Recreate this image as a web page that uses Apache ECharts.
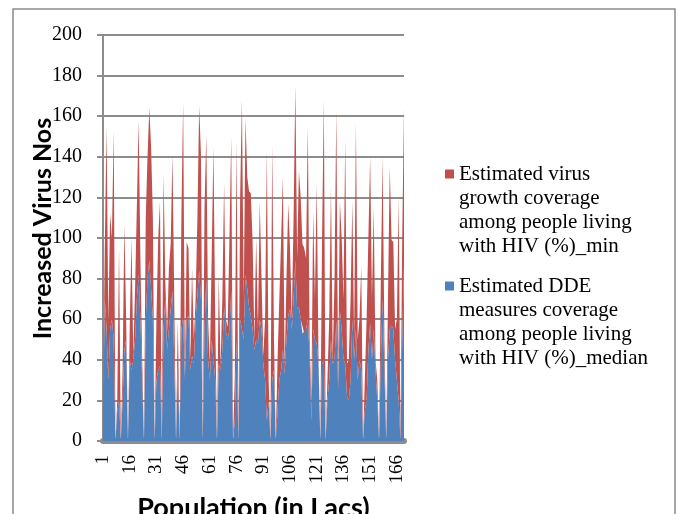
<!DOCTYPE html>
<html lang="en">
<head>
    <meta charset="UTF-8">
    <title>Increased Virus Nos</title>
    <script src="https://cdn.jsdelivr.net/npm/echarts@6/dist/echarts.min.js"></script>
    <style>
        html, body { margin: 0; padding: 0; background: #fff; }
    </style>
</head>
<body>
<div id="main" style="width: 678px;height:514px;"></div>
<script type="text/javascript">
    // population steps 1..170 on the x axis
    var populations = [];
    for (var p = 1; p <= 170; p++) populations.push(String(p));

    var nameMin = 'Estimated virus growth coverage among people living with HIV (%)_min';
    var nameMedian = 'Estimated DDE measures coverage among people living with HIV (%)_median';

    // blue area (bottom of the stack)
    var medianValues = [
        10, 70, 55, 30, 55, 60, 50, 0, 15, 20,
        0, 20, 45, 50, 0, 40, 35, 40, 50, 70,
        82, 60, 30, 0, 60, 80, 89, 75, 60, 0,
        30, 35, 37, 0, 55, 70, 45, 55, 65, 74,
        40, 0, 37, 0, 55, 61, 31, 60, 62, 35,
        42, 38, 60, 72, 84, 70, 0, 55, 80, 40,
        30, 50, 40, 30, 0, 38, 35, 45, 66, 54,
        50, 55, 74, 0, 10, 50, 0, 60, 55, 50,
        82, 75, 66, 62, 55, 45, 50, 48, 60, 55,
        38, 30, 10, 20, 0, 30, 35, 0, 15, 30,
        35, 45, 33, 50, 62, 65, 55, 70, 89, 65,
        66, 60, 53, 53, 55, 60, 42, 10, 55, 50,
        48, 38, 0, 38, 40, 0, 20, 30, 50, 38,
        40, 59, 26, 64, 55, 40, 38, 22, 20, 30,
        60, 40, 55, 30, 40, 35, 0, 15, 20, 45,
        58, 40, 55, 35, 20, 0, 40, 70, 35, 0,
        40, 55, 57, 55, 40, 30, 20, 0, 50, 87
    ];

    // red area (stacked on top of the blue one)
    var minValues = [
        10, 25, 100, 28, 57, 40, 103, 0, 5, 75,
        0, 15, 62, 10, 0, 15, 65, 2, 25, 45,
        76, 30, 10, 0, 50, 60, 75, 70, 50, 0,
        30, 65, 81, 0, 77, 8, 9, 30, 32, 67,
        30, 0, 23, 0, 55, 106, 2, 38, 33, 5,
        43, 12, 10, 38, 81, 71, 0, 60, 71, 20,
        8, 40, 105, 30, 0, 44, 2, 25, 61, 6,
        6, 45, 76, 0, 22, 98, 0, 60, 113, 20,
        77, 55, 57, 60, 43, 5, 50, 7, 58, 25,
        4, 30, 133, 10, 0, 116, 15, 0, 25, 40,
        64, 85, 3, 30, 55, 30, 5, 40, 86, 25,
        67, 60, 44, 42, 35, 95, 8, 10, 58, 20,
        79, 2, 0, 62, 128, 0, 10, 30, 75, 2,
        40, 104, 4, 54, 45, 30, 110, 16, 20, 40,
        58, 10, 102, 20, 20, 51, 0, 15, 40, 55,
        82, 30, 60, 5, 10, 0, 40, 70, 15, 0,
        30, 80, 42, 43, 15, 30, 100, 0, 50, 77
    ];

    // legend text is centred on its square, so three empty lines in front
    // put the square level with the first real line
    var legendLines = {};
    legendLines[nameMin] = '\n\n\nEstimated virus\ngrowth coverage\namong people living\nwith HIV (%)_min';
    legendLines[nameMedian] = '\n\n\nEstimated DDE\nmeasures coverage\namong people living\nwith HIV (%)_median';

    var serif = "'Liberation Serif', 'Times New Roman', serif";
    var gridGray = '#8c8c8c';

    var legendText = {
        fontFamily: serif,
        fontSize: 21,
        color: '#000',
        lineHeight: 24
    };

    var myChart = echarts.init(document.getElementById('main'));
    var option = {
        animation: false,
        color: ['#4F81BD', '#C0504D'],
        graphic: [{
            type: 'rect',
            shape: {x: 13, y: 9, width: 662, height: 530},
            style: {fill: 'none', stroke: '#8a8a8a', lineWidth: 1.5},
            silent: true
        }],
        legend: [{
            left: 440,
            top: 85,
            icon: 'rect',
            itemWidth: 9,
            itemHeight: 9,
            data: [nameMin],
            formatter: function (n) { return legendLines[n]; },
            textStyle: legendText
        }, {
            left: 440,
            top: 197,
            icon: 'rect',
            itemWidth: 9,
            itemHeight: 9,
            data: [nameMedian],
            formatter: function (n) { return legendLines[n]; },
            textStyle: legendText
        }],
        grid: {
            left: 103,
            right: 274,
            top: 35,
            bottom: 73,
            containLabel: false,
            outerBoundsMode: 'none'
        },
        xAxis: {
            type: 'category',
            data: populations,
            boundaryGap: false,
            offset: 3,
            name: 'Population (in Lacs)',
            nameLocation: 'middle',
            nameGap: 51,
            nameMoveOverlap: false,
            nameTextStyle: {
                fontFamily: 'Lato',
                fontWeight: 'bold',
                fontSize: 27,
                color: '#000'
            },
            axisLine: {lineStyle: {color: gridGray, width: 6}},
            axisTick: {show: false},
            axisLabel: {
                interval: 14,
                rotate: 90,
                margin: 11,
                fontFamily: serif,
                fontSize: 19,
                color: '#000'
            },
            splitLine: {show: false}
        },
        yAxis: {
            type: 'value',
            min: 0,
            max: 200,
            interval: 20,
            name: 'Increased Virus Nos',
            nameLocation: 'middle',
            nameRotate: 90,
            nameGap: 48,
            nameMoveOverlap: false,
            nameTextStyle: {
                fontFamily: 'Lato',
                fontWeight: 'bold',
                fontSize: 25,
                color: '#000',
                padding: [0, 0, 0, 19]
            },
            axisLine: {show: true, lineStyle: {color: gridGray, width: 2}},
            axisTick: {show: true, length: 6, lineStyle: {color: gridGray, width: 2}},
            axisLabel: {
                margin: 21,
                fontFamily: serif,
                fontSize: 20,
                color: '#000'
            },
            splitLine: {lineStyle: {color: gridGray, width: 2}}
        },
        series: [{
            name: nameMedian,
            type: 'line',
            stack: 'virus',
            data: medianValues,
            symbol: 'none',
            lineStyle: {width: 0},
            areaStyle: {color: '#4F81BD', opacity: 1}
        }, {
            name: nameMin,
            type: 'line',
            stack: 'virus',
            data: minValues,
            symbol: 'none',
            lineStyle: {width: 0},
            areaStyle: {color: '#C0504D', opacity: 1}
        }]
    };
    myChart.setOption(option);
</script>
</body>
</html>
